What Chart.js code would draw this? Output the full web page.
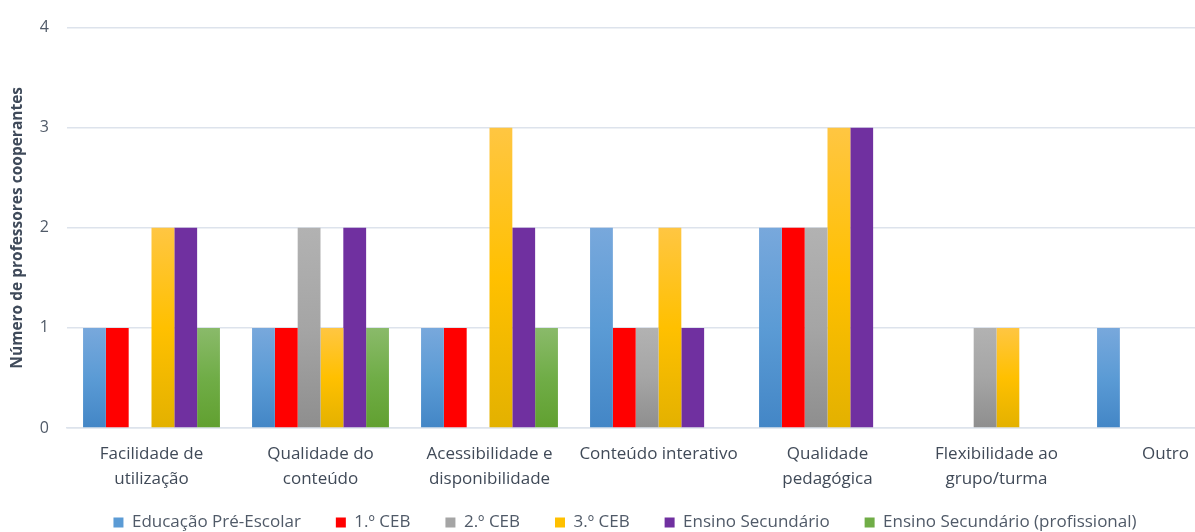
<!DOCTYPE html>
<html>
<head>
<meta charset="utf-8">
<script src="https://cdn.jsdelivr.net/npm/chart.js@4/dist/chart.umd.min.js"></script>
<style>
  html, body { margin: 0; padding: 0; background: #fff; overflow: hidden; }
  #wrap { width: 1250px; height: 532px; }
</style>
</head>
<body>
<div id="wrap"><canvas id="bar-chart" width="1250" height="532"></canvas></div>
<script>
// categorias (rótulos em várias linhas)
const categorias = [
    ['Facilidade de', 'utilização'],
    ['Qualidade do', 'conteúdo'],
    ['Acessibilidade e', 'disponibilidade'],
    'Conteúdo interativo',
    ['Qualidade', 'pedagógica'],
    ['Flexibilidade ao', 'grupo/turma'],
    'Outro'
];

const nomesSeries = [
    'Educação Pré-Escolar',
    '1.º CEB',
    '2.º CEB',
    '3.º CEB',
    'Ensino Secundário',
    'Ensino Secundário (profissional)'
];

const preEscolar   = [1, 1, 1, 2, 2, 0, 1];
const ceb1         = [1, 1, 1, 1, 2, 0, 0];
const ceb2         = [0, 2, 0, 1, 2, 1, 0];
const ceb3         = [2, 1, 3, 2, 3, 1, 0];
const secundario   = [2, 2, 2, 1, 3, 0, 0];
const profissional = [1, 1, 1, 0, 0, 0, 0];

const yTicks = [0, 1, 2, 3, 4];

// cores: [topo, meio, base] para o degradê de cada barra
const cores = [
    ['#78a8dc', '#5b9bd5', '#4386c6'],
    ['#ff0000', '#ff0000', '#ff0000'],
    ['#b2b2b2', '#a5a5a5', '#8e8e8e'],
    ['#ffc642', '#ffc000', '#e3b100'],
    ['#7030a0', '#7030a0', '#7030a0'],
    ['#8aba6a', '#70ad47', '#61a030']
];

function degrade(idx) {
    return function (ctx) {
        const chart = ctx.chart;
        const c = cores[idx];
        if (ctx.type !== 'data' || !chart.scales.y) return c[1];
        const v = ctx.raw || 0;
        const yTop = chart.scales.y.getPixelForValue(v);
        const yBase = chart.scales.y.getPixelForValue(0);
        if (!isFinite(yTop) || yTop === yBase) return c[1];
        const g = chart.ctx.createLinearGradient(0, yTop, 0, yBase);
        g.addColorStop(0, c[0]);
        g.addColorStop(0.5, c[1]);
        g.addColorStop(1, c[2]);
        return g;
    };
}

const valores = [preEscolar, ceb1, ceb2, ceb3, secundario, profissional];

const datasets = valores.map((d, i) => ({
    label: nomesSeries[i],
    data: d,
    backgroundColor: degrade(i),
    borderWidth: 0,
    barPercentage: 1.0,
    categoryPercentage: 0.81
}));

const texto = '#505a68';

// sobe a legenda um pouco depois do layout (o padding grande só serve
// para afastar os itens na horizontal)
const subirLegenda = {
    id: 'subirLegenda',
    afterLayout(chart) {
        const lg = chart.legend;
        if (lg) {
            lg.top -= 11;
            lg.height += 11;
        }
    }
};

const ctx = document.getElementById('bar-chart').getContext('2d');
new Chart(ctx, {
    type: 'bar',
    data: { labels: categorias, datasets: datasets },
    plugins: [subirLegenda],
    options: {
        responsive: false,
        animation: false,
        layout: { autoPadding: false, padding: { top: 20, right: 0, bottom: 0, left: 0 } },
        plugins: {
            tooltip: { enabled: false },
            legend: {
                position: 'bottom',
                maxHeight: 42,
                labels: {
                    color: texto,
                    font: { family: 'Open Sans', size: 17 },
                    boxWidth: 10,
                    boxHeight: 10,
                    padding: 35,
                    generateLabels: (chart) => chart.data.datasets.map((ds, i) => ({
                        text: ds.label,
                        fillStyle: cores[i][1],
                        strokeStyle: cores[i][1],
                        lineWidth: 0,
                        datasetIndex: i,
                        fontColor: texto
                    }))
                }
            }
        },
        scales: {
            x: {
                grid: { display: false },
                border: { color: '#dde3ec', width: 1.5 },
                ticks: {
                    color: '#404a58',
                    font: { family: 'Open Sans', size: 17, lineHeight: 1.47 },
                    maxRotation: 0,
                    autoSkip: false,
                    padding: 6
                },
                afterFit: (s) => { s.height = 62; }
            },
            y: {
                min: 0,
                max: 4,
                afterBuildTicks: (s) => { s.ticks = yTicks.map(v => ({ value: v })); },
                grid: { color: '#dde3ec', lineWidth: 1.5, drawTicks: false },
                border: { display: false },
                ticks: {
                    color: texto,
                    font: { family: 'Open Sans', size: 16 },
                    padding: 18
                },
                title: {
                    display: true,
                    text: 'Número de professores cooperantes',
                    color: '#3f4a5a',
                    font: { family: 'Open Sans', size: 15.5, weight: 'bold' },
                    padding: { top: 8, bottom: 0 }
                },
                afterFit: (s) => { s.width = 67; }
            }
        }
    }
});
</script>
</body>
</html>
